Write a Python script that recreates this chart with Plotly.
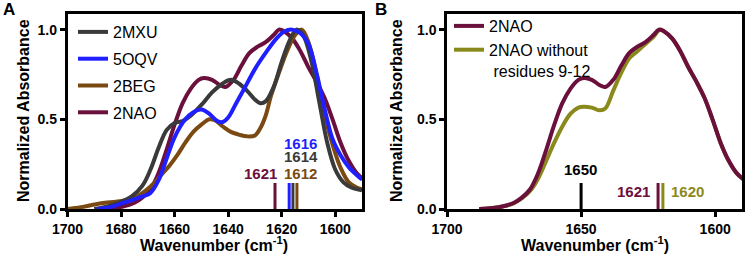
import plotly.graph_objects as go

# ---------------- data ----------------
mxu_x = [1690, 1685, 1680, 1676, 1672, 1669, 1666, 1663, 1660, 1657, 1654, 1650, 1646, 1642, 1639, 1636, 1633, 1630, 1628, 1626, 1623, 1620, 1617, 1614.5, 1612, 1609, 1606, 1603, 1600, 1597, 1594, 1590]
mxu_y = [0.0, 0.015, 0.04, 0.07, 0.13, 0.22, 0.34, 0.44, 0.48, 0.49, 0.52, 0.58, 0.65, 0.70, 0.72, 0.70, 0.66, 0.61, 0.59, 0.60, 0.68, 0.82, 0.94, 1.0, 0.97, 0.83, 0.60, 0.37, 0.22, 0.15, 0.12, 0.105]

oqv_x = [1689, 1684, 1680, 1676, 1672, 1669, 1666, 1663, 1660, 1656, 1653, 1650, 1647, 1644, 1642, 1640, 1637, 1634, 1630, 1626, 1622, 1619, 1616, 1613, 1610, 1607, 1604, 1601, 1598, 1595, 1592, 1590]
oqv_y = [0.0, 0.01, 0.03, 0.05, 0.07, 0.09, 0.16, 0.28, 0.40, 0.50, 0.54, 0.555, 0.53, 0.49, 0.485, 0.51, 0.59, 0.67, 0.78, 0.87, 0.95, 0.99, 1.0, 0.98, 0.92, 0.76, 0.56, 0.39, 0.30, 0.235, 0.19, 0.165]

beg_x = [1700, 1695, 1690, 1686, 1682, 1678, 1674, 1671, 1668, 1665, 1662, 1659, 1656, 1653, 1650, 1647, 1645, 1642, 1639, 1636, 1633, 1630, 1628, 1626, 1624, 1621, 1618, 1615, 1612.5, 1610, 1607, 1604, 1601, 1598, 1595, 1592, 1590]
beg_y = [0.0, 0.01, 0.025, 0.035, 0.04, 0.05, 0.07, 0.10, 0.14, 0.19, 0.24, 0.30, 0.37, 0.43, 0.47, 0.50, 0.495, 0.46, 0.43, 0.415, 0.405, 0.41, 0.45, 0.52, 0.63, 0.76, 0.88, 0.97, 1.0, 0.93, 0.75, 0.53, 0.36, 0.23, 0.15, 0.12, 0.11]

nao_x = [1688, 1683, 1679, 1675, 1672, 1669, 1666, 1663, 1660, 1657, 1654, 1651, 1649, 1646, 1643, 1641, 1638, 1635, 1632, 1629, 1626, 1623, 1621, 1619, 1616, 1613, 1610, 1607, 1604, 1601, 1598, 1595, 1592, 1589]
nao_y = [0.0, 0.005, 0.015, 0.035, 0.065, 0.11, 0.20, 0.33, 0.47, 0.59, 0.67, 0.72, 0.73, 0.72, 0.69, 0.68, 0.72, 0.80, 0.87, 0.905, 0.93, 0.97, 1.0, 0.99, 0.95, 0.88, 0.79, 0.71, 0.62, 0.50, 0.37, 0.27, 0.20, 0.16]

trunc_x = [1688, 1683, 1679, 1675, 1672, 1669, 1666, 1663, 1660, 1657, 1654, 1651, 1649, 1646, 1643, 1641, 1638, 1635, 1632, 1629, 1626, 1623, 1620.5, 1619, 1616, 1613, 1610, 1607, 1604, 1601, 1598, 1595, 1592, 1589]
trunc_y = [0.0, 0.005, 0.015, 0.033, 0.06, 0.10, 0.17, 0.27, 0.37, 0.46, 0.53, 0.565, 0.57, 0.565, 0.55, 0.56, 0.66, 0.76, 0.84, 0.88, 0.92, 0.96, 1.0, 0.99, 0.95, 0.88, 0.79, 0.71, 0.62, 0.50, 0.37, 0.27, 0.20, 0.16]

# peak-position markers (wavenumber, label)
a_mark_pos = [1622.5, 1617.2, 1615.8, 1614.3]
a_mark_lbl = ["1621", "1616", "1614", "1612"]
b_mark_pos = [1650, 1621.3, 1619.5]
b_mark_lbl = ["1650", "1621", "1620"]
mark_height = 0.145

x_ticks_a = [1700, 1680, 1660, 1640, 1620, 1600]
x_ticks_b = [1700, 1650, 1600]
y_ticks = [0.0, 0.5, 1.0]

# ---------------- style ----------------
C_MXU = "#3a3a3a"
C_OQV = "#1f1fff"
C_BEG = "#7b4a12"
C_NAO = "#6b0f3c"
C_TRU = "#8a8a1c"
FONT = "Arial, Liberation Sans, Helvetica, sans-serif"
LW = 4

fig = go.Figure()

def curve(x, y, name, color, xa, ya, legend, rank):
    fig.add_trace(go.Scatter(
        x=x, y=y, name=name, mode="lines",
        line=dict(color=color, width=LW, shape="spline", smoothing=1.0),
        xaxis=xa, yaxis=ya, legend=legend, legendrank=rank,
        legendgroup=name, hoverinfo="skip"))

# Panel A
curve(nao_x, nao_y, "2NAO", C_NAO, "x", "y", "legend", 4)
curve(beg_x, beg_y, "2BEG", C_BEG, "x", "y", "legend", 3)
curve(mxu_x, mxu_y, "2MXU", C_MXU, "x", "y", "legend", 1)
curve(oqv_x, oqv_y, "5OQV", C_OQV, "x", "y", "legend", 2)

# Panel B
curve(trunc_x, trunc_y, "2NAO without<br>\u00a0residues 9-12", C_TRU, "x2", "y2", "legend2", 2)
curve(nao_x, nao_y, "2NAO ", C_NAO, "x2", "y2", "legend2", 1)

# marker bars
a_cols = [C_NAO, C_OQV, C_MXU, C_BEG]
for p, c in zip(a_mark_pos, a_cols):
    fig.add_trace(go.Scatter(x=[p, p], y=[0, mark_height], mode="lines",
                             line=dict(color=c, width=3), showlegend=False,
                             xaxis="x", yaxis="y", hoverinfo="skip"))
b_cols = ["#000000", C_NAO, C_TRU]
for p, c in zip(b_mark_pos, b_cols):
    fig.add_trace(go.Scatter(x=[p, p], y=[0, mark_height], mode="lines",
                             line=dict(color=c, width=3), showlegend=False,
                             xaxis="x2", yaxis="y2", hoverinfo="skip"))

ann = []
def lab(text, x, y, color, xref, yref):
    ann.append(dict(text=text, x=x, y=y, xref=xref, yref=yref, showarrow=False,
                    font=dict(family=FONT, size=15, color=color, weight="bold"),
                    xanchor="center", yanchor="middle"))

lab(a_mark_lbl[0], 1627.8, 0.20, C_NAO, "x", "y")
lab(a_mark_lbl[1], 1612.8, 0.363, C_OQV, "x", "y")
lab(a_mark_lbl[2], 1612.8, 0.292, C_MXU, "x", "y")
lab(a_mark_lbl[3], 1612.8, 0.20, C_BEG, "x", "y")
lab(b_mark_lbl[0], 1650.3, 0.218, "#000000", "x2", "y2")
lab(b_mark_lbl[1], 1630.5, 0.10, C_NAO, "x2", "y2")
lab(b_mark_lbl[2], 1610.4, 0.10, C_TRU, "x2", "y2")

# titles and panel letters
def ptext(text, x, y, size, angle=0, xanchor="center", pad=1):
    ann.append(dict(text=text, x=x / 746, y=1 - y / 261, xref="paper", yref="paper",
                    showarrow=False, textangle=angle, xanchor=xanchor, yanchor="middle",
                    borderpad=pad,
                    font=dict(family=FONT, size=size, color="#000000", weight="bold")))

ptext("A", 2, 10, 17, xanchor="left", pad=0)
ptext("B", 374, 10, 17, xanchor="left", pad=0)
xt = "Wavenumber (cm<sup>-1</sup>)"
ptext(xt, 214, 244, 16)
ptext(xt, 595, 244, 16)
ptext("Normalized Absorbance", 23, 111, 16, angle=-90)
ptext("Normalized Absorbance", 396, 111, 16, angle=-90)

Y0, Y1 = 1 - 209 / 261, 1 - 13.5 / 261
axis_common = dict(showline=True, linewidth=2.5, linecolor="#000000", mirror=True,
                   ticks="outside", ticklen=5, tickwidth=2.5, tickcolor="#000000",
                   showgrid=False, zeroline=False, automargin=False,
                   tickfont=dict(family=FONT, size=14, color="#000000", weight="bold"))

fig.update_layout(
    template="none",
    width=746, height=261,
    margin=dict(l=0, r=0, t=0, b=0, autoexpand=False),
    paper_bgcolor="#ffffff", plot_bgcolor="#ffffff",
    xaxis=dict(domain=[67.5 / 746, 362 / 746], range=[1700, 1590], tickvals=x_ticks_a,
               anchor="y", **axis_common),
    yaxis=dict(domain=[Y0, Y1], range=[0, 1.09], tickvals=y_ticks, tickformat=".1f",
               anchor="x", **axis_common),
    xaxis2=dict(domain=[447 / 746, 742 / 746], range=[1700, 1590], tickvals=x_ticks_b,
                anchor="y2", **axis_common),
    yaxis2=dict(domain=[Y0, Y1], range=[0, 1.09], tickvals=y_ticks, tickformat=".1f",
                anchor="x2", **axis_common),
    legend=dict(x=73 / 746, y=1 - 15 / 261, xanchor="left", yanchor="top",
                bgcolor="rgba(0,0,0,0)", borderwidth=0, traceorder="grouped",
                tracegroupgap=3, font=dict(family=FONT, size=16, color="#000000")),
    legend2=dict(x=449 / 746, y=1 - 9 / 261, xanchor="left", yanchor="top",
                 bgcolor="rgba(0,0,0,0)", borderwidth=0, traceorder="grouped",
                 tracegroupgap=0, valign="top",
                 font=dict(family=FONT, size=16, color="#000000")),
    annotations=ann,
    showlegend=True,
)

fig.write_html("out.html", config={"displayModeBar": False},
               post_script="document.body.style.margin='0';")
